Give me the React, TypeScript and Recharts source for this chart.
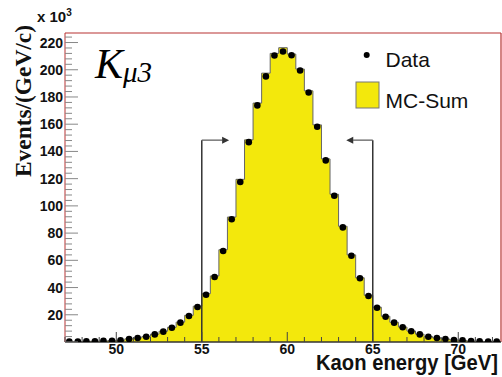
import {
  ComposedChart,
  Area,
  Scatter,
  XAxis,
  YAxis,
  ReferenceLine,
  ReferenceDot,
} from 'recharts';

// bin centres [GeV], 0.5 GeV bins
const binCenters = [
  47.25, 47.75, 48.25, 48.75, 49.25, 49.75, 50.25, 50.75, 51.25, 51.75,
  52.25, 52.75, 53.25, 53.75, 54.25, 54.75, 55.25, 55.75, 56.25, 56.75,
  57.25, 57.75, 58.25, 58.75, 59.25, 59.75, 60.25, 60.75, 61.25, 61.75,
  62.25, 62.75, 63.25, 63.75, 64.25, 64.75, 65.25, 65.75, 66.25, 66.75,
  67.25, 67.75, 68.25, 68.75, 69.25, 69.75, 70.25, 70.75, 71.25, 71.75,
  72.25,
];

// events per GeV, x 10^3
const dataCounts = [
  0.4, 0.4, 0.5, 0.6, 0.8, 0.9, 1.2, 2.2, 2.9, 3.9,
  5.6, 7.6, 10.5, 14.2, 19.1, 25.7, 34.7, 47.7, 66.8, 90.2,
  117.5, 146.8, 173.8, 195.1, 210.5, 213.4, 210.7, 199.5, 183.3, 158.1,
  133.4, 107.4, 84.2, 63.4, 46.8, 33.8, 25.2, 18.6, 14.2, 10.8,
  7.9, 5.6, 3.9, 2.9, 2.2, 1.4, 1.2, 0.7, 0.5, 0.4,
  0.4,
];

const mcCounts = [
  0.4, 0.4, 0.5, 0.6, 0.8, 1.0, 1.3, 2.3, 3.0, 4.1,
  5.8, 7.9, 10.8, 14.6, 19.6, 26.3, 35.5, 48.5, 67.8, 91.8,
  119.5, 148.5, 175.5, 197.5, 212.0, 216.2, 211.5, 200.5, 184.5, 159.5,
  134.5, 108.5, 85.0, 64.0, 47.2, 34.3, 25.6, 18.9, 14.5, 11.0,
  8.1, 5.8, 4.0, 3.0, 2.2, 1.5, 1.2, 0.7, 0.5, 0.4,
  0.4,
];

const xMajorTicks = [50, 55, 60, 65, 70];
const xTicks = [
  47, 48, 49, 50, 51, 52, 53, 54, 55, 56, 57, 58, 59, 60, 61, 62, 63, 64,
  65, 66, 67, 68, 69, 70, 71, 72,
];
const yTicks = Array.from({ length: 57 }, (_, i) => i * 4);

const cutLow = 55;
const cutHigh = 65;
const cutHeight = 148.3;

const SANS = '"Liberation Sans", Arial, sans-serif';
const SERIF = '"Liberation Serif", "Times New Roman", serif';
const YELLOW = '#f3e80c';
const FRAME = '#b83232';

// histogram drawn as stepAfter area on bin edges
const histRows = binCenters.map((c, i) => ({ x: c - 0.25, mc: mcCounts[i] }));
histRows.push({ x: binCenters[binCenters.length - 1] + 0.25, mc: mcCounts[mcCounts.length - 1] });

const dataPoints = binCenters.map((c, i) => ({ x: c, data: dataCounts[i] }));

function XTick(props: any) {
  const { x, y, payload } = props;
  const major = xMajorTicks.includes(payload.value);
  return (
    <g>
      <line x1={x} x2={x} y1={y} y2={y - (major ? 10 : 5)} stroke="#444" strokeWidth={1} />
      {major && (
        <text x={x} y={y + 12} textAnchor="middle" fontFamily={SANS} fontWeight="bold" fontSize={14} fill="#111">
          {payload.value}
        </text>
      )}
    </g>
  );
}

function YTick(props: any) {
  const { x, y, payload } = props;
  const v = payload.value;
  const major = v % 20 === 0;
  return (
    <g>
      <line x1={x} x2={x + (major ? 13 : 7)} y1={y} y2={y} stroke="#888" strokeWidth={1} />
      {major && v > 0 && (
        <text x={x - 2} y={y + 5} textAnchor="end" fontFamily={SANS} fontWeight="bold" fontSize={14} fill="#111">
          {v}
        </text>
      )}
    </g>
  );
}

function ArrowRight(props: any) {
  const { cx, cy } = props;
  return <polygon points={`${cx},${cy} ${cx - 7},${cy - 3.5} ${cx - 7},${cy + 3.5}`} fill="#333" />;
}

function ArrowLeft(props: any) {
  const { cx, cy } = props;
  return <polygon points={`${cx},${cy} ${cx + 7},${cy - 3.5} ${cx + 7},${cy + 3.5}`} fill="#333" />;
}

function Dot(props: any) {
  const { cx, cy } = props;
  return <circle cx={cx} cy={cy} r={3.3} fill="#000" />;
}

export default function App() {
  return (
    <div style={{ position: 'absolute', left: 0, top: 0, width: 502, height: 377, background: '#fff' }}>
      <ComposedChart
        width={502}
        height={377}
        data={histRows}
        margin={{ top: 33, right: 1, bottom: 0, left: 0 }}
      >
        <XAxis
          dataKey="x"
          type="number"
          domain={[47, 72.5]}
          allowDataOverflow
          ticks={xTicks}
          interval={0}
          tickSize={0}
          tickMargin={0}
          tickLine={false}
          tick={<XTick />}
          height={35}
          axisLine={{ stroke: '#333', strokeWidth: 1.5 }}
        />
        <YAxis
          type="number"
          domain={[0, 227]}
          allowDataOverflow
          ticks={yTicks}
          interval={0}
          tickSize={0}
          tickMargin={0}
          tickLine={false}
          tick={<YTick />}
          width={65}
          axisLine={{ stroke: FRAME, strokeWidth: 1 }}
        />
        <Area
          type="stepAfter"
          dataKey="mc"
          fill={YELLOW}
          fillOpacity={1}
          stroke="#666"
          strokeWidth={1}
          isAnimationActive={false}
          dot={false}
          activeDot={false}
        />
        <ReferenceLine y={227} stroke={FRAME} strokeWidth={1.2} />
        <ReferenceLine x={72.5} stroke={FRAME} strokeWidth={1.2} />
        <ReferenceLine segment={[{ x: cutLow, y: 0 }, { x: cutLow, y: cutHeight }]} stroke="#333" strokeWidth={1.5} />
        <ReferenceLine segment={[{ x: cutLow, y: cutHeight }, { x: 56.2, y: cutHeight }]} stroke="#555" strokeWidth={1.2} />
        <ReferenceLine segment={[{ x: cutHigh, y: 0 }, { x: cutHigh, y: cutHeight }]} stroke="#333" strokeWidth={1.5} />
        <ReferenceLine segment={[{ x: cutHigh, y: cutHeight }, { x: 63.85, y: cutHeight }]} stroke="#555" strokeWidth={1.2} />
        <ReferenceDot x={56.6} y={cutHeight} shape={<ArrowRight />} />
        <ReferenceDot x={63.45} y={cutHeight} shape={<ArrowLeft />} />
        <Scatter data={dataPoints} dataKey="data" shape={<Dot />} isAnimationActive={false} />
      </ComposedChart>
      <svg
        width={502}
        height={377}
        style={{ position: 'absolute', left: 0, top: 0, pointerEvents: 'none' }}
      >
        <text x={37} y={22} fontFamily={SANS} fontWeight="bold" fontSize={15} fill="#111">
          x 10
          <tspan fontSize={10} dy={-6}>3</tspan>
        </text>
        <text x={95} y={78} fontFamily={SERIF} fontStyle="italic" fill="#000">
          <tspan fontSize={42}>K</tspan>
          <tspan fontSize={29} dy={4}>μ3</tspan>
        </text>
        <text
          transform="translate(31, 101) rotate(-90)"
          textAnchor="middle"
          fontFamily={SERIF}
          fontWeight="bold"
          fontSize={24}
          textLength={152}
          lengthAdjust="spacingAndGlyphs"
          fill="#111"
        >
          Events/(GeV/c)
        </text>
        <text
          transform="translate(316, 370) scale(0.92, 1)"
          fontFamily={SANS}
          fontWeight="bold"
          fontSize={22}
          fill="#111"
        >
          Kaon energy [GeV]
        </text>
        <circle cx={366.7} cy={55} r={3} fill="#000" />
        <text x={385.5} y={66.5} fontFamily={SANS} fontSize={21} fill="#111">Data</text>
        <rect x={356} y={82} width={23} height={26} fill={YELLOW} stroke="#777" strokeWidth={1} />
        <text x={385.5} y={108} fontFamily={SANS} fontSize={21} fill="#111">MC-Sum</text>
      </svg>
    </div>
  );
}
